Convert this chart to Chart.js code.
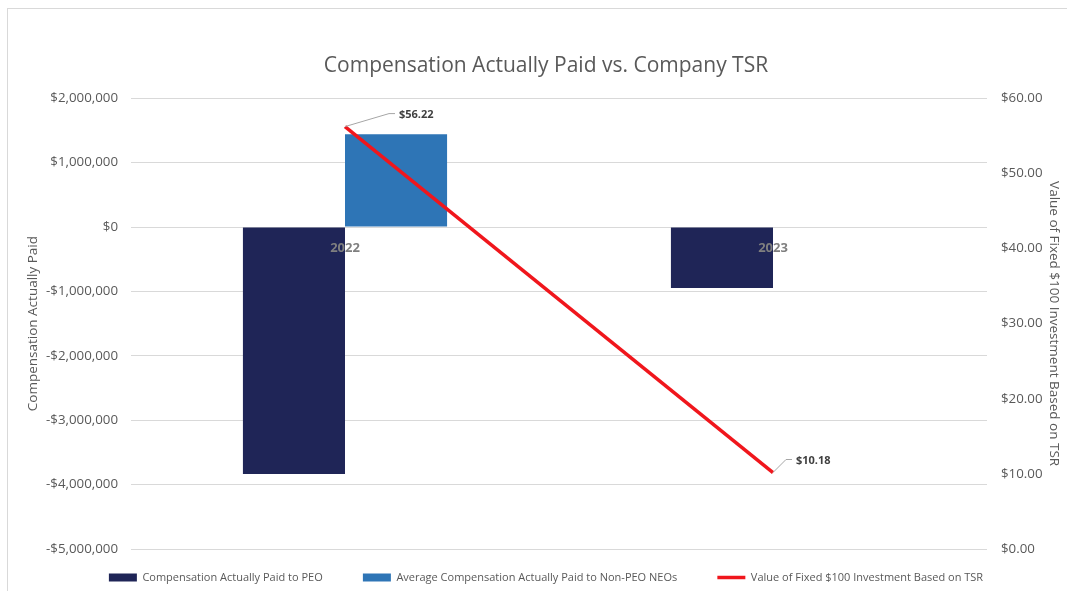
<!DOCTYPE html>
<html>
<head>
  <meta charset="UTF-8">
  <title>Compensation Actually Paid vs. Company TSR</title>
  <script src="https://cdn.jsdelivr.net/npm/chart.js"></script>
  <style>
    body { margin: 0; background: #fff; overflow: hidden; }
    #frame { position: absolute; left: 7px; top: 8px; width: 1100px; height: 700px; border: 1px solid #d9d9d9; }
    #c { position: absolute; left: 0; top: 0; }
  </style>
</head>
<body>
  <div id="frame"></div>
  <canvas id="c" width="1067" height="591"></canvas>

  <script>
    const years = ['2022', '2023'];
    const peoPaid = [-3835000, -947000];
    const neoPaid = [1440000, null];
    const tsrValue = [56.22, 10.18];
    const tsrLabels = ['$56.22', '$10.18'];

    const grey = '#595959';
    const font = "'Open Sans', sans-serif";

    function money(v) {
      return (v < 0 ? '-$' : '$') + Math.abs(v).toLocaleString('en-US');
    }

    // year labels sit on the zero line, drawn over the bars like in Excel
    const yearLabels = {
      id: 'yearLabels',
      afterDatasetsDraw(chart) {
        const ctx = chart.ctx;
        const xs = chart.scales.x;
        const y0 = chart.scales.y.getPixelForValue(0);
        ctx.save();
        ctx.fillStyle = '#7f7f7f';
        ctx.font = 'bold 13px ' + font;
        ctx.textAlign = 'center';
        ctx.textBaseline = 'middle';
        years.forEach((yr, i) => {
          ctx.fillText(yr, xs.getPixelForTick(i), y0 + 21);
        });
        ctx.restore();
      }
    };

    // labels with a small leader line next to the TSR points
    const leader = [[44, 13], [13, 13]];
    const pointLabels = {
      id: 'pointLabels',
      afterDatasetsDraw(chart) {
        const ctx = chart.ctx;
        const meta = chart.getDatasetMeta(2);
        ctx.save();
        meta.data.forEach((pt, i) => {
          const x = pt.x, y = pt.y;
          const [dx, dy] = leader[i];
          ctx.strokeStyle = '#a6a6a6';
          ctx.lineWidth = 1;
          ctx.beginPath();
          ctx.moveTo(x, y);
          ctx.lineTo(x + dx, y - dy);
          ctx.lineTo(x + dx + 6, y - dy);
          ctx.stroke();
          ctx.fillStyle = '#404040';
          ctx.font = 'bold 11px ' + font;
          ctx.textAlign = 'left';
          ctx.textBaseline = 'middle';
          ctx.fillText(tsrLabels[i], x + dx + 10, y - dy + 1);
        });
        ctx.restore();
      }
    };

    new Chart(document.getElementById('c'), {
      type: 'bar',
      data: {
        labels: years,
        datasets: [
          {
            label: 'Compensation Actually Paid to PEO',
            data: peoPaid,
            backgroundColor: '#1f2557',
            yAxisID: 'y',
            order: 2
          },
          {
            label: 'Average Compensation Actually Paid to Non-PEO NEOs',
            data: neoPaid,
            backgroundColor: '#2e75b6',
            yAxisID: 'y',
            order: 2
          },
          {
            type: 'line',
            label: 'Value of Fixed $100 Investment Based on TSR',
            data: tsrValue,
            borderColor: '#f0161c',
            backgroundColor: '#f0161c',
            borderWidth: 3.5,
            pointRadius: 0,
            yAxisID: 'y1',
            order: 1
          }
        ]
      },
      options: {
        responsive: false,
        animation: false,
        categoryPercentage: 0.477,
        barPercentage: 1,
        layout: { padding: { left: 25, right: 0, top: 0, bottom: -2 } },
        plugins: {
          title: {
            display: true,
            text: 'Compensation Actually Paid vs. Company TSR',
            color: grey,
            font: { family: font, size: 21, weight: 'normal' },
            padding: { top: 53, bottom: 20 }
          },
          legend: {
            position: 'bottom',
            labels: {
              color: grey,
              font: { family: font, size: 11 },
              usePointStyle: true,
              pointStyleWidth: 28,
              boxHeight: 8,
              padding: 23,
              generateLabels(chart) {
                const n = chart.data.datasets.length;
                return chart.data.datasets.map((ds, i) => ({
                  // trailing spaces widen the gap between items without a taller legend
                  text: ds.label + (i < n - 1 ? '      ' : ''),
                  datasetIndex: i,
                  fillStyle: ds.type === 'line' ? ds.borderColor : ds.backgroundColor,
                  strokeStyle: ds.type === 'line' ? ds.borderColor : ds.backgroundColor,
                  lineWidth: ds.type === 'line' ? 3.5 : 0,
                  pointStyle: ds.type === 'line' ? 'line' : 'rect',
                  fontColor: grey
                }));
              }
            }
          },
          tooltip: { enabled: false }
        },
        scales: {
          x: {
            position: { y: 0 },
            grid: { display: false },
            border: { display: false },
            ticks: { display: false }
          },
          y: {
            position: 'left',
            min: -5000000,
            max: 2000000,
            afterFit(s) { s.width = 106; },
            grid: { color: '#d9d9d9', drawTicks: false },
            border: { display: false },
            ticks: {
              stepSize: 1000000,
              padding: 13,
              color: grey,
              font: { family: font, size: 13.3 },
              callback: v => money(v)
            },
            title: {
              display: true,
              text: 'Compensation Actually Paid',
              color: grey,
              font: { family: font, size: 13.5 },
              padding: { top: 0, bottom: 0 }
            }
          },
          y1: {
            position: 'right',
            min: 0,
            max: 60,
            afterFit(s) { s.width = 80; },
            grid: { drawOnChartArea: false, drawTicks: false },
            border: { display: false },
            ticks: {
              stepSize: 10,
              padding: 14,
              color: grey,
              font: { family: font, size: 13.3 },
              callback: v => '$' + v.toFixed(2)
            },
            title: {
              display: true,
              text: 'Value of Fixed $100 Investment Based on TSR',
              color: grey,
              font: { family: font, size: 13.5 },
              padding: { top: 5, bottom: 0 }
            }
          }
        }
      },
      plugins: [yearLabels, pointLabels]
    });
  </script>
</body>
</html>
